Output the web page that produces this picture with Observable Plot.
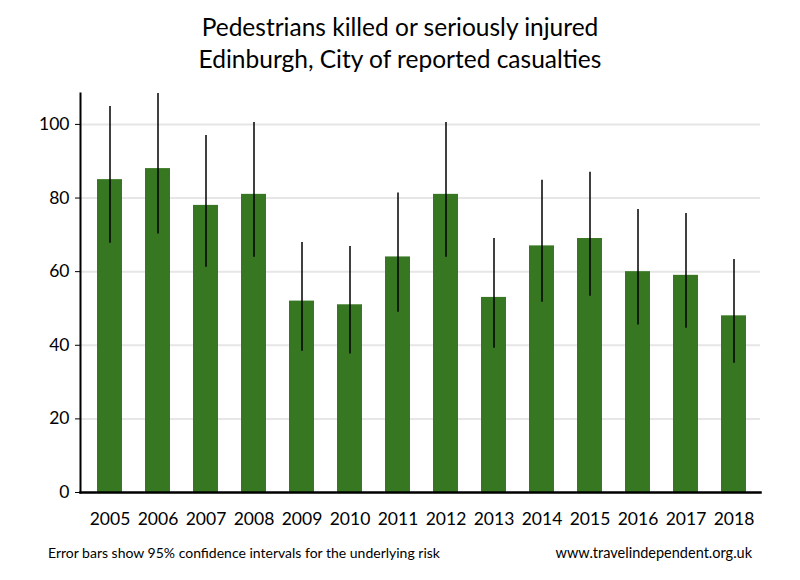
<!DOCTYPE html>
<html>
<head>
<meta charset="utf-8">
<script src="https://cdn.jsdelivr.net/npm/d3@7"></script>
<script src="https://cdn.jsdelivr.net/npm/@observablehq/plot@0.6"></script>
<style>
  html, body { margin: 0; padding: 0; background: #fff; }
  body { width: 800px; height: 580px; position: relative; font-family: Lato, "Open Sans", sans-serif; color: #000; }
  #title { position: absolute; top: 11px; left: 0; width: 800px; text-align: center; font-size: 24.5px; line-height: 32px; }
  #chart { position: absolute; top: 80px; left: 0; }
  #note { position: absolute; top: 544px; left: 48px; font-size: 14px; }
  #src { position: absolute; top: 544px; right: 48px; font-size: 14.5px; }
</style>
</head>
<body>
<div id="title">Pedestrians killed or seriously injured<br>Edinburgh, City of reported casualties</div>
<div id="chart"></div>
<div id="note">Error bars show 95% confidence intervals for the underlying risk</div>
<div id="src">www.travelindependent.org.uk</div>
<script>
const years = ["2005","2006","2007","2008","2009","2010","2011","2012","2013","2014","2015","2016","2017","2018"];
const casualties = [85, 88, 78, 81, 52, 51, 64, 81, 53, 67, 69, 60, 59, 48];
const ciLow  = [67.7, 70.2, 61.2, 63.9, 38.4, 37.6, 49.0, 63.9, 39.2, 51.7, 53.3, 45.5, 44.6, 35.1];
const ciHigh = [104.9, 108.4, 97.0, 100.5, 67.9, 66.8, 81.4, 100.5, 69.0, 84.8, 87.0, 76.9, 75.8, 63.3];
const yTicks = [0, 20, 40, 60, 80, 100];

const data = years.map((y, i) => ({year: y, value: casualties[i], lo: ciLow[i], hi: ciHigh[i]}));

const chart = Plot.plot({
  width: 800,
  height: 460,
  marginTop: 13,
  marginBottom: 48,
  marginLeft: 80,
  marginRight: 40,
  insetLeft: 5,
  insetRight: 3,
  style: {fontFamily: "Lato, 'Open Sans', sans-serif", fontSize: "17.5px", color: "#000", background: "#fff"},
  x: {domain: years, paddingInner: 0.48, paddingOuter: 0.24, label: null},
  y: {domain: [0, 108.4], label: null},
  marks: [
    Plot.gridY(yTicks, {stroke: "#e6e6e6", strokeOpacity: 1, strokeWidth: 2}),
    Plot.barY(data, {x: "year", y: "value", fill: "#387722"}),
    Plot.ruleX(data, {x: "year", y1: "lo", y2: "hi", stroke: "#000", strokeWidth: 1.5}),
    Plot.frame({anchor: "left", stroke: "#000", strokeWidth: 2}),
    Plot.frame({anchor: "bottom", stroke: "#000", strokeWidth: 2.5}),
    Plot.axisY(yTicks, {tickSize: 5, tickPadding: 6, stroke: "#000", fontSize: 17.5, label: null}),
    Plot.axisX({tickSize: 0, tickPadding: 20, fontSize: 17.5, label: null})
  ]
});
document.getElementById("chart").appendChild(chart);
</script>
</body>
</html>
